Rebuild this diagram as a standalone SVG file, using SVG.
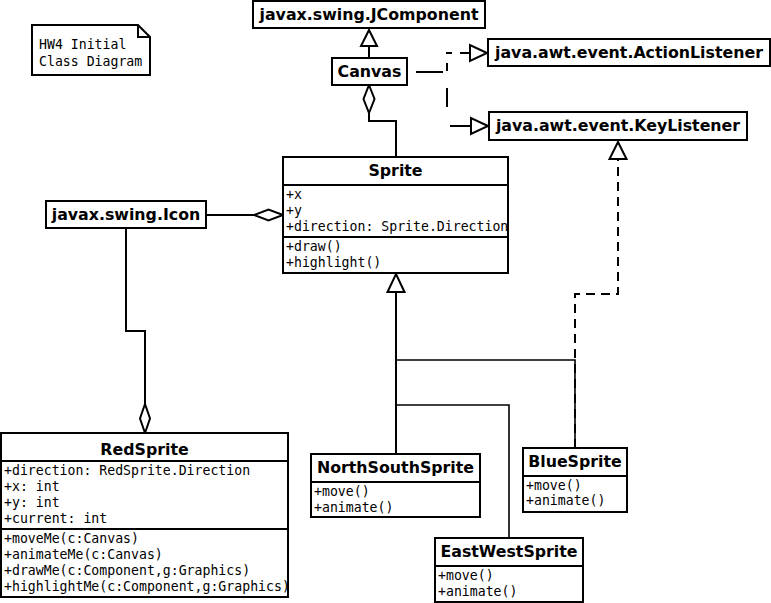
<svg xmlns="http://www.w3.org/2000/svg" width="771" height="603" viewBox="0 0 771 603">
<style>
.box{fill:#fff;stroke:#000;stroke-width:2}
.div{stroke:#000;stroke-width:2;fill:none}
.t{font-family:"DejaVu Sans","Liberation Sans",sans-serif;font-weight:bold;font-size:15.8px;fill:#000;text-anchor:middle}
.m{font-family:"DejaVu Sans Mono","Liberation Mono",monospace;font-size:13.2px;fill:#000}
.ln{fill:none;stroke:#000;stroke-width:2}
.thin{fill:none;stroke:#000;stroke-width:1.6}
.dash{fill:none;stroke:#000;stroke-width:2;stroke-dasharray:9,6}
.tri{fill:#fff;stroke:#000;stroke-width:2;stroke-linejoin:miter}
.dia{fill:#fff;stroke:#000;stroke-width:2}
</style>
<rect width="771" height="603" fill="#fff"/>
<g id="note">
<path class="box" d="M32,25 H138 L150,37 V75 H32 Z"/>
<path class="div" d="M138,25 V37 H150" stroke-width="1"/>
<text class="m" x="39" y="49">HW4 Initial</text>
<text class="m" x="39" y="66">Class Diagram</text>
</g>
<g id="connectors">
<!-- Canvas -> JComponent generalization -->
<path class="ln" d="M369,58 V46"/>
<path class="tri" d="M369,30 L377,46 L361,46 Z"/>
<!-- Canvas -> ActionListener realization -->
<path class="ln" d="M416,72 H447 V53 H470" stroke-dasharray="27,5,8,9,6,8,10,100"/>
<path class="tri" d="M487,53 L470,45 L470,61 Z"/>
<!-- Canvas -> KeyListener realization -->
<path class="ln" d="M416,72 H447 V126 H470" stroke-dasharray="27,20,19,22,20,100"/>
<path class="tri" d="M488,126 L471,118 L471,134 Z"/>
<!-- Canvas <>- Sprite aggregation -->
<path class="ln" d="M369,113 V121 H396 V157"/>
<path class="dia" d="M369,85 L374.5,99 L369,113 L363.5,99 Z"/>
<!-- Icon - Sprite aggregation -->
<path class="ln" d="M206,215 H254"/>
<path class="dia" d="M283,215 L268.5,209.5 L254,215 L268.5,220.5 Z"/>
<!-- Icon - RedSprite aggregation -->
<path class="ln" d="M126,228 V331 H145 V404"/>
<path class="dia" d="M145,433 L150,418.5 L145,404 L140,418.5 Z"/>
<!-- Generalization to Sprite -->
<path class="ln" d="M396,292 V454"/>
<path class="thin" d="M396,360 H575 V448"/>
<path class="thin" d="M396,405 H509 V538"/>
<path class="tri" d="M396,274 L404.5,292 L387.5,292 Z"/>
<!-- BlueSprite -> KeyListener realization -->
<path class="dash" d="M575,448 V294 H618 V159"/>
<path class="tri" d="M618,142 L626.5,159 L609.5,159 Z"/>
</g>
<g id="JComponent">
<rect class="box" x="253" y="1" width="232" height="27"/>
<text class="t" x="369" y="20">javax.swing.JComponent</text>
</g>
<g id="Canvas">
<rect class="box" x="332" y="58" width="75" height="27"/>
<text class="t" x="369.5" y="77">Canvas</text>
</g>
<g id="ActionListener">
<rect class="box" x="488" y="39" width="282" height="27"/>
<text class="t" x="629" y="58">java.awt.event.ActionListener</text>
</g>
<g id="KeyListener">
<rect class="box" x="489" y="112" width="258" height="28"/>
<text class="t" x="618" y="131">java.awt.event.KeyListener</text>
</g>
<g id="Icon">
<rect class="box" x="46" y="201" width="160" height="27"/>
<text class="t" x="126" y="220">javax.swing.Icon</text>
</g>
<g id="Sprite">
<rect class="box" x="283" y="157" width="225" height="116"/>
<path class="div" d="M283,185 H508 M283,237 H508"/>
<text class="t" x="395.5" y="176">Sprite</text>
<text class="m" x="286" y="199">+x</text>
<text class="m" x="286" y="215">+y</text>
<text class="m" x="286" y="231">+direction: Sprite.Direction</text>
<text class="m" x="286" y="251">+draw()</text>
<text class="m" x="286" y="267">+highlight()</text>
</g>
<g id="RedSprite">
<rect class="box" x="1" y="433" width="287" height="164"/>
<path class="div" d="M1,461 H288 M1,529 H288"/>
<text class="t" x="144.5" y="455">RedSprite</text>
<text class="m" x="4" y="475">+direction: RedSprite.Direction</text>
<text class="m" x="4" y="491">+x: int</text>
<text class="m" x="4" y="507">+y: int</text>
<text class="m" x="4" y="523">+current: int</text>
<text class="m" x="4" y="543">+moveMe(c:Canvas)</text>
<text class="m" x="4" y="559">+animateMe(c:Canvas)</text>
<text class="m" x="4" y="575">+drawMe(c:Component,g:Graphics)</text>
<text class="m" x="4" y="591">+highlightMe(c:Component,g:Graphics)</text>
</g>
<g id="NorthSouthSprite">
<rect class="box" x="311" y="454" width="169" height="63"/>
<path class="div" d="M311,482 H480"/>
<text class="t" x="395.5" y="473">NorthSouthSprite</text>
<text class="m" x="314" y="496">+move()</text>
<text class="m" x="314" y="512">+animate()</text>
</g>
<g id="BlueSprite">
<rect class="box" x="523" y="448" width="104" height="64"/>
<path class="div" d="M523,476 H627"/>
<text class="t" x="575" y="467">BlueSprite</text>
<text class="m" x="526" y="490">+move()</text>
<text class="m" x="526" y="505">+animate()</text>
</g>
<g id="EastWestSprite">
<rect class="box" x="435" y="538" width="148" height="64"/>
<path class="div" d="M435,566 H583"/>
<text class="t" x="509" y="557">EastWestSprite</text>
<text class="m" x="438" y="580">+move()</text>
<text class="m" x="438" y="596">+animate()</text>
</g>
</svg>
